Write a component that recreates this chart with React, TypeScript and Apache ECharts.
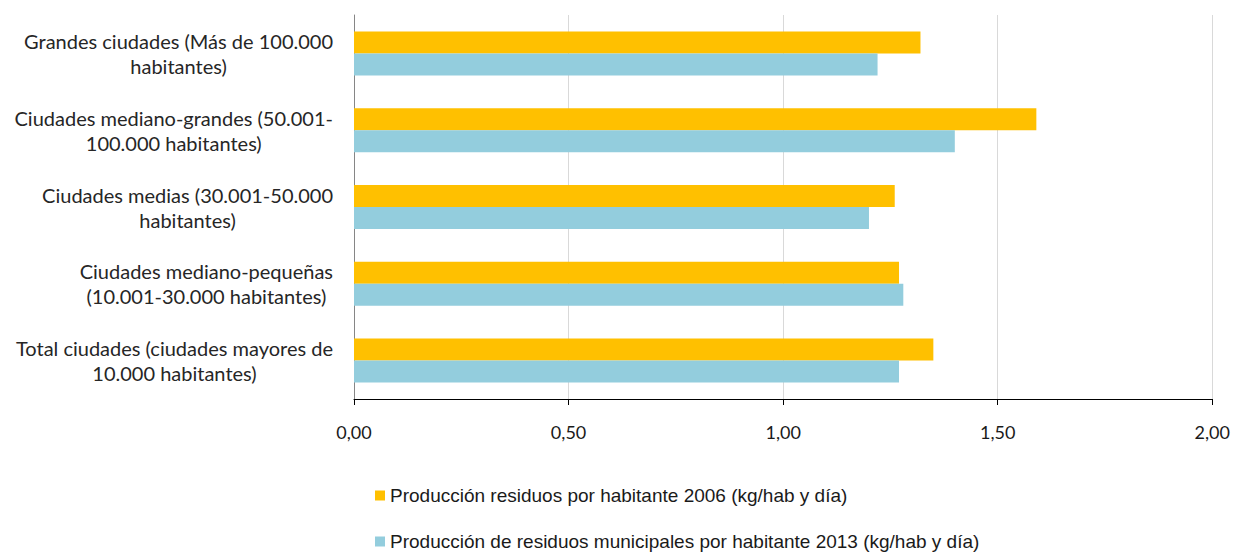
import React, { useEffect, useRef } from "react";
import * as echarts from "echarts";

const categories = [
  "Grandes ciudades (Más de 100.000\nhabitantes)",
  "Ciudades mediano-grandes (50.001-\n100.000 habitantes)",
  "Ciudades medias (30.001-50.000\nhabitantes)",
  "Ciudades mediano-pequeñas\n(10.001-30.000 habitantes)",
  "Total ciudades (ciudades mayores de\n10.000 habitantes)",
];

const series2006Name = "Producción residuos por habitante 2006 (kg/hab y día)";
const series2013Name = "Producción de residuos municipales por habitante 2013 (kg/hab y día)";

const values2006 = [1.32, 1.59, 1.26, 1.27, 1.35];
const values2013 = [1.22, 1.40, 1.20, 1.28, 1.27];

const xMin = 0;
const xMax = 2;
const xInterval = 0.5;

export default function App() {
  const ref = useRef<HTMLDivElement>(null);

  useEffect(() => {
    if (!ref.current) return;
    const chart = echarts.init(ref.current, undefined, { renderer: "svg" });
    chart.setOption({
      animation: false,
      backgroundColor: "#ffffff",
      grid: { left: 354, right: 20, top: 15, bottom: 153, containLabel: false },
      legend: {
        orient: "vertical",
        left: 375,
        top: 486,
        padding: 0,
        itemWidth: 10,
        itemHeight: 10,
        itemGap: 27,
        icon: "rect",
        textStyle: {
          fontFamily: "Liberation Sans",
          fontSize: 19,
          color: "#1a1a1a",
        },
        data: [series2006Name, series2013Name],
      },
      xAxis: {
        type: "value",
        min: xMin,
        max: xMax,
        interval: xInterval,
        axisLine: { show: true, lineStyle: { color: "#000000", width: 1 } },
        axisTick: { show: true, length: 6, lineStyle: { color: "#000000" } },
        splitLine: { show: true, lineStyle: { color: "#d9d9d9", width: 1 } },
        axisLabel: {
          fontFamily: "Lato",
          fontSize: 18,
          color: "#1a1a1a",
          margin: 24,
          formatter: (v: number) => v.toFixed(2).replace(".", ","),
        },
      },
      yAxis: {
        type: "category",
        inverse: true,
        data: categories,
        axisLine: { show: true, lineStyle: { color: "#868686", width: 1 } },
        axisTick: { show: false },
        axisLabel: {
          align: "right",
          margin: 21,
          formatter: (v: string) =>
            v
              .split("\n")
              .map((l) => "{c|" + l + "}")
              .join("\n"),
          rich: {
            c: {
              fontFamily: "Lato",
              fontSize: 20,
              lineHeight: 25,
              color: "#262626",
              align: "center",
            },
          },
        },
      },
      series: [
        {
          name: series2006Name,
          type: "bar",
          data: values2006,
          barWidth: 22,
          barGap: "0%",
          itemStyle: { color: "#FFC000" },
        },
        {
          name: series2013Name,
          type: "bar",
          data: values2013,
          barWidth: 22,
          barGap: "0%",
          itemStyle: { color: "#93CDDD" },
        },
      ],
    });
    return () => chart.dispose();
  }, []);

  return (
    <div
      ref={ref}
      style={{ position: "absolute", left: 0, top: 0, width: 1233, height: 552 }}
    />
  );
}
